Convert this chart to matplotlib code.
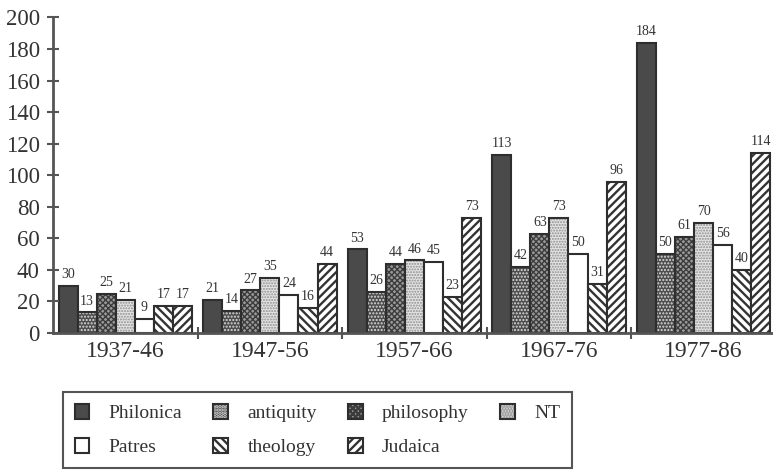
import numpy as np
import matplotlib
matplotlib.use('Agg')
import matplotlib.pyplot as plt

# counts per decade
periods = ['1937-46', '1947-56', '1957-66', '1967-76', '1977-86']
philonica = [30, 21, 53, 113, 184]
antiquity = [13, 14, 26, 42, 50]
philosophy = [25, 27, 44, 63, 61]
nt = [21, 35, 46, 73, 70]
patres = [9, 24, 45, 50, 56]
theology = [17, 16, 23, 31, 40]
judaica = [17, 44, 73, 96, 114]

names = ['Philonica', 'antiquity', 'philosophy', 'NT', 'Patres', 'theology', 'Judaica']
series = [philonica, antiquity, philosophy, nt, patres, theology, judaica]
# facecolor, hatch colour, hatch
styles = [('#4a4a4a', '#4a4a4a', None),
          ('#4e4e4e', '#dcdcdc', '.....'),
          ('#9a9a9a', '#3c3c3c', 'xxxxxx'),
          ('#e4e4e4', '#8e8e8e', '......'),
          ('white', 'white', None),
          ('white', '#333333', '\\\\\\\\'),
          ('white', '#333333', '////')]

plt.rcParams['font.family'] = ['Liberation Serif', 'DejaVu Serif']
txt = '#333333'
axc = '#555555'

fig = plt.figure(figsize=(7.73, 4.71), dpi=100)
ax = fig.add_axes([0.0686, 0.293, 0.935, 0.670])

x = np.arange(len(periods)) + 0.5
w = 0.132
handles = {}
for i, (name, vals) in enumerate(zip(names, series)):
    fc, hc, h = styles[i]
    pos = x + (i - 3) * w
    plt.rcParams['hatch.linewidth'] = 1.7 if i >= 5 else 1.0
    fill = ax.bar(pos, vals, w, color=fc, edgecolor=hc, hatch=h, linewidth=0)
    edge = ax.bar(pos, vals, w, fill=False, edgecolor='#2e2e2e', linewidth=1.5)
    handles[name] = (fill[0], edge[0])
    for px, v in zip(pos, vals):
        ax.text(px, v + 3, str(v), ha='center', va='bottom', fontsize=10, color=txt)

ax.set_xlim(0, 5)
ax.set_ylim(0, 200)
ax.set_yticks(range(0, 201, 20))
ax.set_xticks([1, 2, 3, 4])
ax.set_xticklabels([])
ax.set_xticks(x, minor=True)
ax.set_xticklabels(periods, minor=True, fontsize=17, color=txt)
ax.tick_params(axis='x', which='minor', length=0, pad=6)
ax.tick_params(axis='x', which='major', direction='inout', length=9, width=1.5, color=axc)
ax.tick_params(axis='y', direction='inout', length=9, width=1.5, color=axc,
               labelsize=16.5, labelcolor=txt, pad=5)
for s in ['top', 'right']:
    ax.spines[s].set_visible(False)
for s in ['left', 'bottom']:
    ax.spines[s].set_color(axc)
    ax.spines[s].set_linewidth(2)

order = ['Philonica', 'Patres', 'antiquity', 'theology', 'philosophy', 'Judaica', 'NT']
leg = fig.legend([handles[n] for n in order], order, ncol=4, mode='expand',
                 bbox_to_anchor=(0.0815, 0.0064, 0.658, 0.204), loc='lower left',
                 fontsize=14, handlelength=0.75, handleheight=0.85, handletextpad=1.0,
                 borderaxespad=0, fancybox=False, framealpha=1, labelspacing=0.8,
                 borderpad=0.6)
leg.get_frame().set_edgecolor(axc)
leg.get_frame().set_linewidth(1.5)
for t in leg.get_texts():
    t.set_color(txt)

fig.savefig('out.png', dpi=100)
